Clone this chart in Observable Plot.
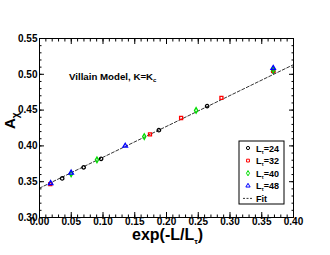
<!DOCTYPE html>
<html><head><meta charset="utf-8">
<script src="https://cdn.jsdelivr.net/npm/d3@7"></script>
<script src="https://cdn.jsdelivr.net/npm/@observablehq/plot@0.6"></script>
<style>body{margin:0;background:#fff}</style>
</head><body><div id="chart"></div>
<script>
// Series: x = exp(-L/L_tau), y = A_chi
const xL24 = [0.0357, 0.0695, 0.0970, 0.1880, 0.2640, 0.3680];
const yL24 = [0.3546, 0.3700, 0.3820, 0.4220, 0.4556, 0.5040];
const xL32 = [0.0170, 0.1740, 0.2230, 0.2865, 0.3680];
const yL32 = [0.3465, 0.4160, 0.4390, 0.4670, 0.5050];
const xL40 = [0.0498, 0.0905, 0.1650, 0.2466, 0.3680];
const yL40 = [0.3610, 0.3805, 0.4130, 0.4496, 0.5060];
const xL48 = [0.0175, 0.0498, 0.1350, 0.3680];
const yL48 = [0.3478, 0.3625, 0.4000, 0.5087];
const fitX = [0.0, 0.40];
const fitY = [0.341, 0.5135];
const seriesLabels = ["24", "32", "40", "48"];
const seriesColors = ["#000000", "#ff0000", "#00dd00", "#0000ff"];
const seriesSymbols = ["circle", "square", "diamond", "triangle"];
const xMajor = [0.00, 0.05, 0.10, 0.15, 0.20, 0.25, 0.30, 0.35, 0.40];
const yMajor = [0.30, 0.35, 0.40, 0.45, 0.50, 0.55];
const xMinor = d3.range(0, 41).map(i => i / 100);
const yMinor = d3.range(30, 56).map(i => i / 100);

const sx = [xL24, xL32, xL40, xL48];
const sy = [yL24, yL32, yL40, yL48];
const pts = [];
sx.forEach((xs, s) => xs.forEach((x, i) => pts.push({x, y: sy[s][i], s})));
const fit = fitX.map((x, i) => ({x, y: fitY[i]}));

const W = 330, H = 255, mL = 39, mR = 37, mT = 38, mB = 38;
const font = "'Liberation Sans', Arial, Helvetica, sans-serif";

const plot = Plot.plot({
  width: W, height: H,
  marginLeft: mL, marginRight: mR, marginTop: mT, marginBottom: mB,
  x: {domain: [0, 0.4]},
  y: {domain: [0.3, 0.55]},
  style: {fontFamily: font, fontSize: "10px", fontWeight: "bold", color: "black", background: "white", overflow: "visible"},
  marks: [
    Plot.axisX(xMinor, {anchor: "bottom", tickSize: -2.5, text: null, label: null}),
    Plot.axisX(xMinor, {anchor: "top", tickSize: -2.5, text: null, label: null}),
    Plot.axisX(xMajor, {anchor: "bottom", tickSize: -5, text: null, label: null}),
    Plot.axisX(xMajor, {anchor: "top", tickSize: -5, text: null, label: null}),
    Plot.axisY(yMinor, {anchor: "left", tickSize: -2.5, text: null, label: null}),
    Plot.axisY(yMinor, {anchor: "right", tickSize: -2.5, text: null, label: null}),
    Plot.axisY(yMajor, {anchor: "left", tickSize: -5, text: null, label: null}),
    Plot.axisY(yMajor, {anchor: "right", tickSize: -5, text: null, label: null}),
    Plot.axisX(xMajor, {anchor: "bottom", tickSize: 0, tickPadding: 0, tickFormat: d3.format(".2f"), label: null}),
    Plot.axisY(yMajor, {anchor: "left", tickSize: 0, tickPadding: 2, tickFormat: d3.format(".2f"), label: null}),
    Plot.frame({stroke: "black", strokeWidth: 1}),
    Plot.line(fit, {x: "x", y: "y", stroke: "black", strokeWidth: 0.8, strokeDasharray: "3,2"}),
    Plot.dot(pts, {x: "x", y: "y", r: 1.7, fill: "none", strokeWidth: 1.3,
      stroke: d => seriesColors[d.s], symbol: d => seriesSymbols[d.s]})
  ]
});

const svg = d3.select(plot);
// x axis title
const xt = svg.append("text").attr("x", 132).attr("y", 240).attr("text-anchor", "start")
  .attr("font-family", font).attr("font-weight", "bold").attr("font-size", 16).attr("fill", "black");
xt.append("tspan").text("exp(-L/L");
xt.append("tspan").attr("font-size", 8).attr("dy", 4).text("\u03c4");
xt.append("tspan").attr("dy", -4).text(")");
// y axis title
const yt = svg.append("text").attr("transform", "translate(15,129) rotate(-90)").attr("text-anchor", "start")
  .attr("font-family", font).attr("font-weight", "bold").attr("font-size", 15).attr("fill", "black");
yt.append("tspan").text("A");
yt.append("tspan").attr("font-size", 10).attr("dy", 4).text("\u03c7");
// annotation
const at = svg.append("text").attr("x", 69).attr("y", 80).attr("text-anchor", "start")
  .attr("font-family", font).attr("font-weight", "bold").attr("font-size", 9.7).attr("fill", "black");
at.append("tspan").text("Villain Model, K=K");
at.append("tspan").attr("font-size", 6).attr("dy", 2).text("c");

// legend
const lg = svg.append("g").attr("font-family", font).attr("font-weight", "bold").attr("font-size", 9).attr("text-anchor", "start");
lg.append("rect").attr("x", 239).attr("y", 141).attr("width", 45).attr("height", 63)
  .attr("fill", "white").attr("stroke", "black").attr("stroke-width", 1);
const symMap = {circle: d3.symbolCircle, square: d3.symbolSquare, diamond: d3.symbolDiamond, triangle: d3.symbolTriangle};
seriesLabels.forEach((lab, i) => {
  const cy = 148 + i * 12.6;
  lg.append("path").attr("d", d3.symbol(symMap[seriesSymbols[i]], 8)())
    .attr("transform", `translate(248,${cy})`).attr("fill", "none")
    .attr("stroke", seriesColors[i]).attr("stroke-width", 1);
  const t = lg.append("text").attr("x", 256).attr("y", cy + 3.5).attr("fill", "black");
  t.append("tspan").text("L");
  t.append("tspan").attr("font-size", 5).attr("dy", 2).text("\u03c4");
  t.append("tspan").attr("dy", -2).text("=" + lab);
});
const fy = 148 + 4 * 12.6;
lg.append("line").attr("x1", 243).attr("x2", 252).attr("y1", fy).attr("y2", fy)
  .attr("stroke", "black").attr("stroke-width", 0.8).attr("stroke-dasharray", "2,1.5");
lg.append("text").attr("x", 256).attr("y", fy + 3.5).attr("fill", "black").text("Fit");

document.getElementById("chart").appendChild(plot);
</script>
</body></html>
